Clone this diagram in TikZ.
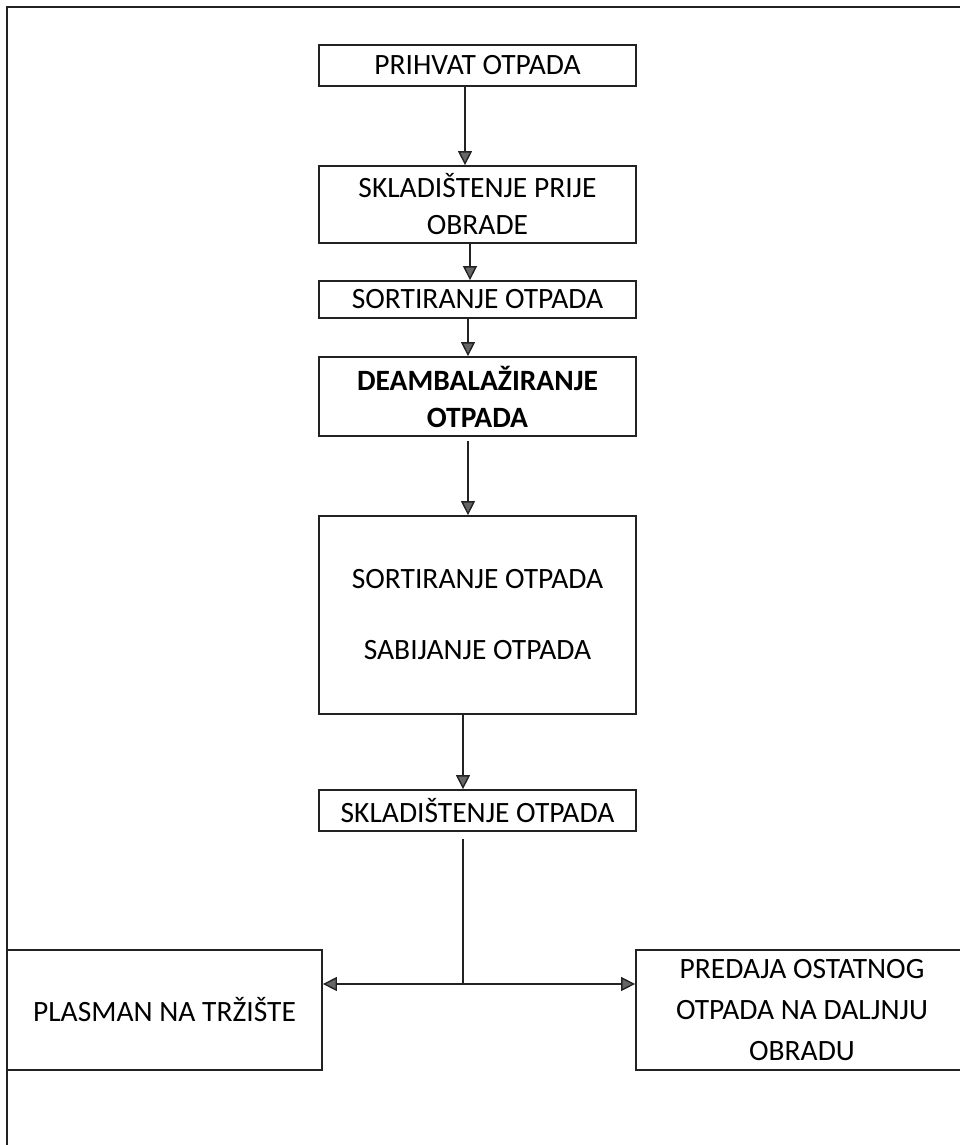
\documentclass[tikz,border=0pt]{standalone}
\usepackage{fontspec}
\setmainfont{Carlito}
\usetikzlibrary{arrows.meta}
\definecolor{linec}{HTML}{222222}
\definecolor{headc}{HTML}{666666}
\tikzset{
  box/.style={draw=linec, line width=1.8pt, rectangle, inner sep=0pt, align=center,
    font=\fontsize{29.5}{37}\selectfont},
  conn/.style={draw=linec, line width=1.4pt},
  arr/.style={conn, -{Triangle[length=14pt,width=14pt,fill=headc]}},
  darr/.style={conn, {Triangle[length=14pt,width=14pt,fill=headc]}-{Triangle[length=14pt,width=14pt,fill=headc]}},
  frame/.style={draw=linec, line width=2pt}
}
\begin{document}
\begin{tikzpicture}[x=1pt,y=-1pt]
\clip (0,0) rectangle (960,1145);
\fill[white] (0,0) rectangle (960,1145);
% frame
\coordinate (ftl) at (7,7);
\coordinate (ftr) at (970,7);
\coordinate (fbl) at (7,1150);
\draw[frame] (ftr) -- (ftl) -- (fbl);
% boxes
\node[box, minimum width=317pt, minimum height=41pt] (n1) at (477.5,65.5) {PRIHVAT OTPADA};
\node[box, minimum width=317pt, minimum height=77pt] (n2) at (477.5,204.5) {SKLADIŠTENJE PRIJE\\OBRADE};
\node[box, minimum width=317pt, minimum height=37pt] (n3) at (477.5,299.5) {SORTIRANJE OTPADA};
\node[box, minimum width=317pt, minimum height=79pt, font=\fontsize{29.5}{37}\selectfont\bfseries] (n4) at (477.5,396.5) {DEAMBALAŽIRANJE\\OTPADA};
\node[box, minimum width=317pt, minimum height=198pt] (n5) at (477.5,615) {SORTIRANJE OTPADA\\[34pt]SABIJANJE OTPADA};
\node[box, minimum width=317pt, minimum height=41pt] (n6) at (477.5,810.5) {SKLADIŠTENJE OTPADA};
\node[box, minimum width=315pt, minimum height=120pt] (pl) at (164.5,1010) {PLASMAN NA TRŽIŠTE};
\node[box, minimum width=332pt, minimum height=120pt, font=\fontsize{29.5}{41}\selectfont] (pr) at (802,1010) {PREDAJA OSTATNOG\\OTPADA NA DALJNJU\\OBRADU};
\coordinate (j) at (463,984);
% connectors
\draw[arr] ([xshift=-12.5pt]n1.south) -- ([xshift=-12.5pt]n2.north);
\draw[arr] ([xshift=-7.5pt]n2.south) -- ([xshift=-7.5pt]n3.north);
\draw[arr] ([xshift=-9.5pt]n3.south) -- ([xshift=-9.5pt]n4.north);
\draw[arr, shorten <=4pt] ([xshift=-9.5pt]n4.south) -- ([xshift=-9.5pt]n5.north);
\draw[arr] ([xshift=-14.5pt]n5.south) -- ([xshift=-14.5pt]n6.north);
\draw[conn, shorten <=7pt] ([xshift=-14.5pt]n6.south) -- (j);
\draw[darr] (j -| pl.east) -- (j -| pr.west);
\end{tikzpicture}
\end{document}
